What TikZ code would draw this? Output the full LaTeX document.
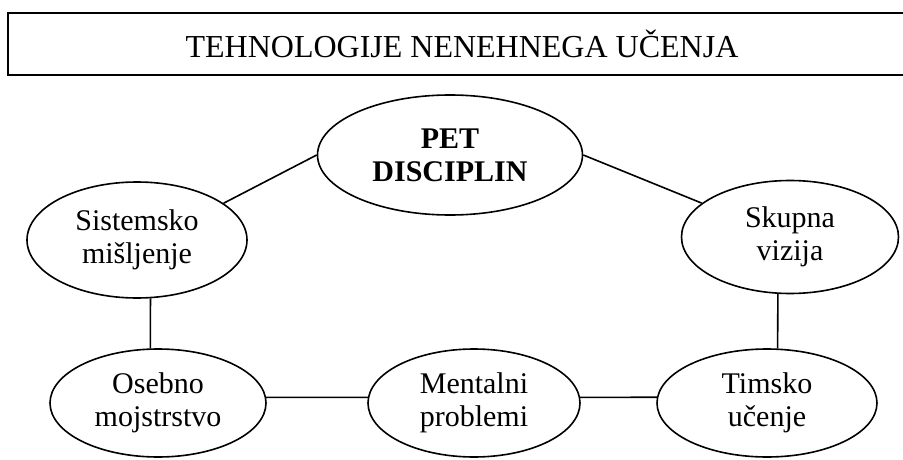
\documentclass[tikz,border=0pt]{standalone}
\usepackage{fontspec}
\setmainfont{Liberation Serif}
\usetikzlibrary{shapes.geometric}

\begin{document}
\begin{tikzpicture}[x=1pt, y=-1pt,
  disc/.style={draw, ellipse, line width=1.6pt, inner sep=0pt, align=center,
               font=\fontsize{30}{33}\selectfont},
  hdr/.style={draw, line width=1.8pt, minimum width=908pt, minimum height=62pt,
              inner sep=0pt, font=\fontsize{32}{36}\selectfont},
  link/.style={line width=1.6pt}]
\clip (0,0) rectangle (903,460);
\node[hdr] (title) at (462,44) {TEHNOLOGIJE NENEHNEGA UČENJA};
% the five disciplines round the centre
\node[disc, minimum width=265pt, minimum height=120pt,
      font=\fontsize{30}{33}\selectfont\bfseries] (pet) at (450,155) {PET\\DISCIPLIN};
\node[disc, minimum width=220pt, minimum height=116pt] (sis) at (137,240) {Sistemsko\\mišljenje};
\node[disc, minimum width=217pt, minimum height=113pt] (sku) at (790,237) {Skupna\\vizija};
\node[disc, minimum width=216pt, minimum height=108pt] (ose) at (158,403) {Osebno\\mojstrstvo};
\node[disc, minimum width=212pt, minimum height=108pt] (men) at (474,403) {Mentalni\\problemi};
\node[disc, minimum width=220pt, minimum height=108pt] (tim) at (767,403) {Timsko\\učenje};
\draw[link] (sis.23) -- (pet.180);
\draw[link] (pet.0) -- (sku.159);
\draw[link] (sis.-77) -- (ose.98);
\draw[link] (sku.-102) -- (tim.79);
\draw[link] (ose.3) -- (men.177);
\draw[link] (men.3) -- (tim.177);
\end{tikzpicture}
\end{document}
